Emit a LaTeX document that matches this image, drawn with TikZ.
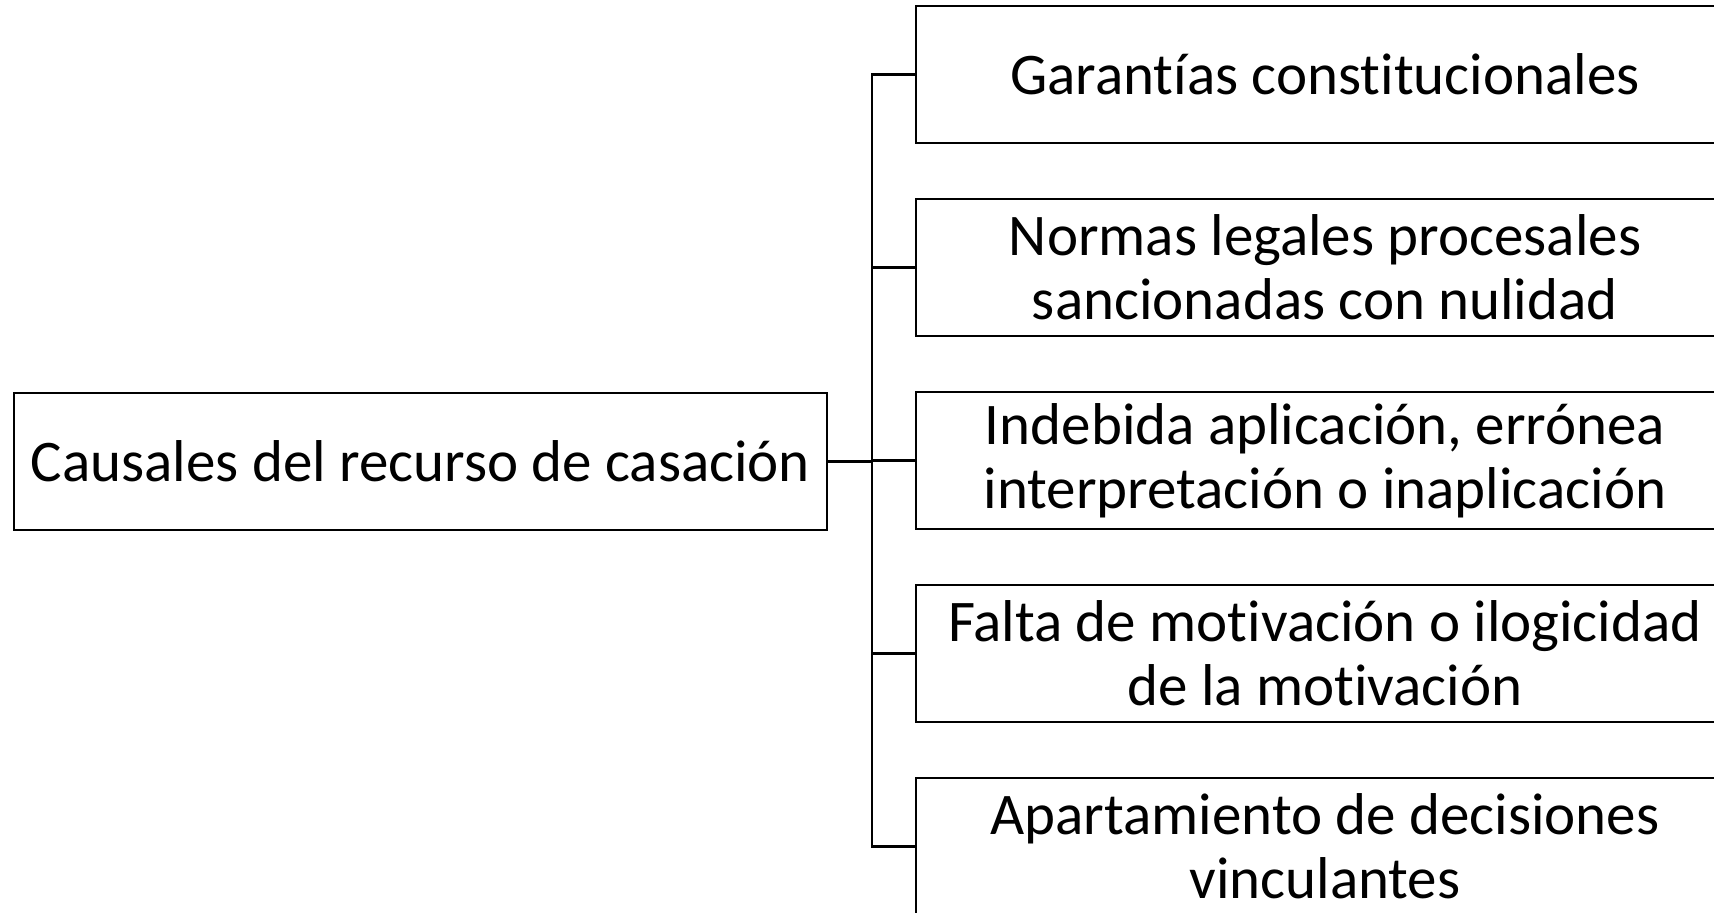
\documentclass[tikz,border=0pt]{standalone}
\usepackage{fontspec}
\setmainfont[Ligatures=NoCommon]{Carlito}
\begin{document}
\begin{tikzpicture}[line cap=rect,line join=miter,x=0.5pt,y=-0.5pt,
		causa/.style={draw,line width=1.2pt,align=center,inner sep=0pt,
			minimum width=409pt,minimum height=68.5pt,
			font=\fontsize{29.5}{32}\selectfont},
		raiz/.style={causa,minimum width=406.5pt}]
		\useasboundingbox (0,0) rectangle (1714,913);
		\clip (0,0) rectangle (1714,913);
		\node[raiz] (root) at (420.5,461.5) {Causales del recurso de casación};
		\node[causa] (c1) at (1325,74.5) {Garantías constitucionales};
		\node[causa] (c2) at (1325,267.5) {Normas legales procesales\\sancionadas con nulidad};
		\node[causa] (c3) at (1325,460.5) {Indebida aplicación, errónea\\interpretación o inaplicación};
		\node[causa] (c4) at (1325,653.5) {Falta de motivación o ilogicidad\\de la motivación};
		\node[causa] (c5) at (1325,846.5) {Apartamiento de decisiones\\vinculantes};
		\coordinate (bus) at (872,461.5);
		\draw [line width=1.2pt] (root) -- (bus);
		\draw [line width=1.2pt] (c1.west) -| (bus) |- (c5.west);
		\draw [line width=1.2pt] (c2.west) -- (c2.west -| bus);
		\draw [line width=1.2pt] (c3.west) -- (c3.west -| bus);
		\draw [line width=1.2pt] (c4.west) -- (c4.west -| bus);
\end{tikzpicture}
\end{document}
